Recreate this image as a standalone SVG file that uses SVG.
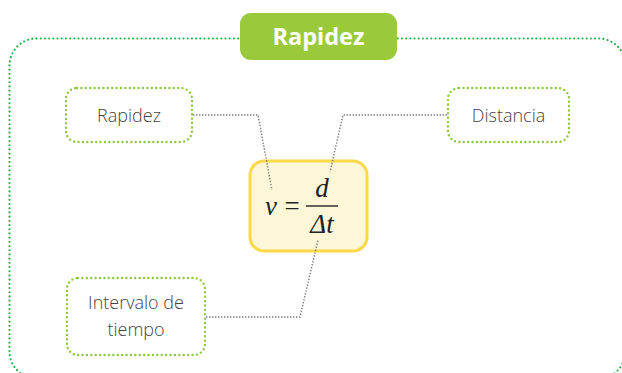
<svg xmlns="http://www.w3.org/2000/svg" width="622" height="373" viewBox="0 0 622 373">
<style>
.frame{fill:none;stroke:#22b04b;stroke-width:2.2;stroke-linecap:round;stroke-dasharray:0 4.2}
.node{fill:#fff;stroke:#8dc63f;stroke-width:2.4;stroke-linecap:round;stroke-dasharray:0 4.4}
.conn{fill:none;stroke:#7a7a7a;stroke-width:1.4;stroke-dasharray:1.4 1.6}
.lbl{font-family:"Open Sans","Liberation Sans",sans-serif;font-weight:300;font-size:18px;fill:#444;text-anchor:middle}
.math{font-family:"Liberation Serif","DejaVu Serif",serif;font-style:italic;font-size:27px;fill:#222}
</style>
<rect class="frame" x="9.5" y="38.5" width="616" height="340" rx="27"/>
<g id="title">
<rect x="240" y="13" width="157" height="47" rx="11" fill="#9aca3c"/>
<text x="318.5" y="45" font-family="'Open Sans','Liberation Sans',sans-serif" font-weight="700" font-size="23.5" fill="#fff" text-anchor="middle">Rapidez</text>
</g>
<g id="rapidez">
<rect class="node" x="66" y="88" width="126" height="54" rx="11"/>
<text class="lbl" x="129" y="122">Rapidez</text>
</g>
<g id="distancia">
<rect class="node" x="448" y="88" width="121" height="54" rx="11"/>
<text class="lbl" x="508.5" y="122">Distancia</text>
</g>
<g id="intervalo">
<rect class="node" x="67" y="278" width="138" height="77" rx="11"/>
<text class="lbl" x="136" y="309">Intervalo de</text>
<text class="lbl" x="136" y="336">tiempo</text>
</g>
<g id="formula">
<rect x="250" y="161" width="117" height="90" rx="14" fill="#fdf7d7" stroke="#fcd84a" stroke-width="3"/>
<text class="math" x="265" y="215">v</text>
<text x="292" y="215" font-family="'Liberation Serif',serif" font-size="27" fill="#222" text-anchor="middle">=</text>
<line x1="306" y1="206" x2="338" y2="206" stroke="#222" stroke-width="1.4"/>
<text class="math" x="322" y="197" text-anchor="middle">d</text>
<text class="math" x="322" y="233" text-anchor="middle">Δt</text>
</g>
<g id="connectors">
<polyline class="conn" points="193,115 258,115 272,190"/>
<polyline class="conn" points="447,115 343,115 330,172"/>
<polyline class="conn" points="206,317 300,317 318,240"/>
</g>
</svg>
